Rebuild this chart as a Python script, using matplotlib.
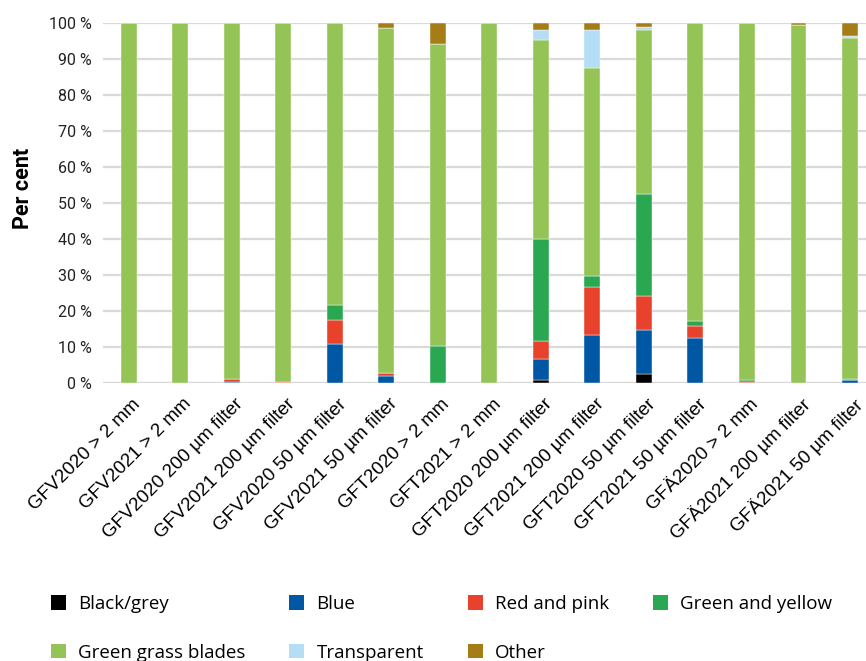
import matplotlib.pyplot as plt
import matplotlib.transforms as mtransforms
import numpy as np
from matplotlib.patches import Patch

samples = ["GFV2020 > 2 mm", "GFV2021 > 2 mm", "GFV2020 200 µm filter", "GFV2021 200 µm filter",
           "GFV2020 50 µm filter", "GFV2021 50 µm filter", "GFT2020 > 2 mm", "GFT2021 > 2 mm",
           "GFT2020 200 µm filter", "GFT2021 200 µm filter", "GFT2020 50 µm filter", "GFT2021 50 µm filter",
           "GFÄ2020 > 2 mm", "GFÄ2021 200 µm filter", "GFÄ2021 50 µm filter"]

black_grey   = [0, 0, 0,   0,   0,    0,    0,    0, 0.9,  0,    2.5,  0,    0,    0,    0]
blue         = [0, 0, 0.4, 0,   10.9, 2.0,  0,    0, 5.7,  13.3, 12.1, 12.5, 0,    0,    0.9]
red_pink     = [0, 0, 0.8, 0.2, 6.7,  0.7,  0,    0, 5.2,  13.3, 9.5,  3.3,  0.3,  0,    0]
green_yellow = [0, 0, 0,   0,   4.2,  0,    10.2, 0, 28.1, 3.1,  28.5, 1.4,  0.5,  0,    0.3]
grass        = [100, 100, 98.8, 99.8, 78.2, 95.9, 84.1, 100, 55.5, 57.7, 45.5, 82.8, 99.2, 99.4, 94.7]
transparent  = [0, 0, 0,   0,   0,    0,    0,    0, 2.7,  10.7, 0.8,  0,    0,    0,    0.6]
other        = [0, 0, 0,   0,   0,    1.4,  5.7,  0, 1.9,  1.9,  1.1,  0,    0,    0.6,  3.5]

series = [("Black/grey", black_grey, "#000000"),
          ("Blue", blue, "#0057A4"),
          ("Red and pink", red_pink, "#E8412C"),
          ("Green and yellow", green_yellow, "#2AA851"),
          ("Green grass blades", grass, "#94C356"),
          ("Transparent", transparent, "#B3DEF5"),
          ("Other", other, "#A67C17")]

fig = plt.figure(figsize=(8.66, 6.61), dpi=100)
ax = fig.add_axes([0.119, 0.4206, 0.881, 0.5445])

x = np.arange(len(samples))
bottom = np.zeros(len(samples))
for name, vals, col in series:
    vals = np.array(vals, dtype=float)
    ax.bar(x, vals, 0.31, bottom=bottom, color=col, edgecolor="white", linewidth=0.3, zorder=3)
    bottom += vals

ax.set_ylim(0, 100)
ax.set_xlim(-0.495, 14.31)
ax.set_yticks(range(0, 101, 10))
ax.set_yticklabels([f"{v} %" for v in range(0, 101, 10)], fontsize=11.5, family="Roboto", color="#222222")
ax.yaxis.grid(True, color="#D9D9D9", linewidth=1.6, zorder=0)
ax.tick_params(axis="both", length=0)
ax.tick_params(axis="y", pad=8)
for s in ax.spines.values():
    s.set_visible(False)
ax.axhline(0, color="#D9D9D9", linewidth=1.6, zorder=1)
ax.set_xticks(x)
ax.set_xticklabels(samples, rotation=45, ha="right", rotation_mode="anchor",
                   fontsize=13.6, family="Liberation Sans")
ax.tick_params(axis="x", pad=9)
shift = mtransforms.ScaledTranslation(3 / 100, 0, fig.dpi_scale_trans)
for lbl in ax.get_xticklabels():
    lbl.set_transform(lbl.get_transform() + shift)
ax.set_ylabel("Per cent", fontsize=15.5, fontweight="bold", family="Roboto")
ax.yaxis.set_label_coords(-0.091, 0.54)

# legend filled column by column, so reorder to get the row layout
order = [0, 4, 1, 5, 2, 6, 3]
handles = [Patch(facecolor=series[i][2], label=series[i][0]) for i in order]
fig.legend(handles=handles, ncol=4, loc="upper left", bbox_to_anchor=(0.048, 0.114),
           frameon=False, prop={"family": "Open Sans", "size": 13.5},
           handlelength=0.8, handleheight=0.8, handletextpad=0.64, columnspacing=2.35,
           labelspacing=1.63, borderpad=0)

fig.savefig("out.png", dpi=100)
